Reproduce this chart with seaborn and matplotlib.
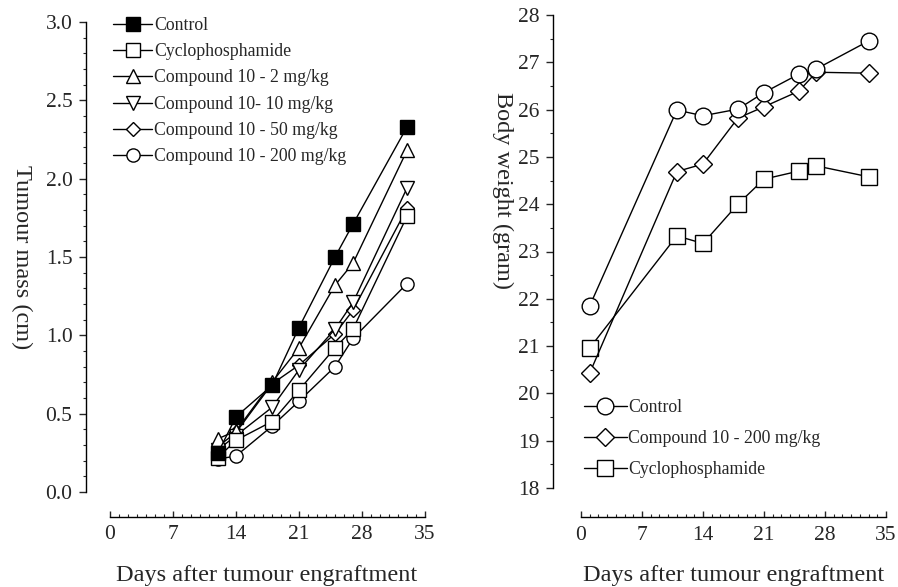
import numpy as np
import pandas as pd
import matplotlib
matplotlib.use("Agg")
import matplotlib.pyplot as plt
import seaborn as sns
from matplotlib.ticker import MultipleLocator

# --- data ---
days_tumour = [12, 14, 18, 21, 25, 27, 33]
control_mass = [0.25, 0.48, 0.68, 1.05, 1.50, 1.71, 2.33]
cyclo_mass = [0.22, 0.33, 0.45, 0.65, 0.92, 1.04, 1.76]
c2_mass = [0.34, 0.39, 0.70, 0.92, 1.32, 1.46, 2.18]
c10_mass = [0.27, 0.36, 0.54, 0.78, 1.04, 1.21, 1.94]
c50_mass = [0.29, 0.38, 0.69, 0.81, 1.01, 1.16, 1.81]
c200_mass = [0.21, 0.23, 0.42, 0.58, 0.80, 0.98, 1.33]

days_weight = [1, 11, 14, 18, 21, 25, 27, 33]
control_weight = [21.85, 25.99, 25.87, 26.01, 26.36, 26.75, 26.86, 27.45]
c200_weight = [20.43, 24.69, 24.85, 25.82, 26.06, 26.39, 26.79, 26.77]
cyclo_weight = [20.96, 23.33, 23.17, 24.00, 24.53, 24.70, 24.81, 24.58]

left_labels = ["Control", "Cyclophosphamide", "Compound 10 - 2 mg/kg",
               "Compound 10- 10 mg/kg", "Compound 10 - 50 mg/kg",
               "Compound 10 - 200 mg/kg"]
right_labels = ["Control", "Compound 10 - 200 mg/kg", "Cyclophosphamide"]
x_ticks = [0, 7, 14, 21, 28, 35]

sns.set_style("ticks")
plt.rcParams["font.family"] = ["Liberation Serif", "DejaVu Serif"]


def style_axes(ax, ylim, ymajor, yminor, left_out, bottom_out):
    ax.set_xlim(0, 35)
    ax.set_ylim(*ylim)
    ax.set_xticks(x_ticks)
    ax.xaxis.set_minor_locator(MultipleLocator(1))
    ax.yaxis.set_major_locator(MultipleLocator(ymajor))
    ax.yaxis.set_minor_locator(MultipleLocator(yminor))
    sns.despine(ax=ax)
    ax.spines["left"].set_position(("outward", left_out))
    ax.spines["bottom"].set_position(("outward", bottom_out))
    for s in ["left", "bottom"]:
        ax.spines[s].set_linewidth(1.0)
        ax.spines[s].set_color("black")
    ax.tick_params(axis="x", which="major", direction="in", length=4.5, width=1.0, labelsize=15.5, pad=6)
    ax.tick_params(axis="x", which="minor", direction="in", length=2.5, width=0.8)
    ax.tick_params(axis="y", which="major", direction="out", length=5, width=1.0, labelsize=15.5, pad=5)
    ax.tick_params(axis="y", which="minor", direction="out", length=2.5, width=0.8)
    ax.set_xlabel("")
    ax.set_ylabel("")


fig = plt.figure(figsize=(8.98, 5.87), dpi=100)
ax1 = fig.add_axes([110 / 898, 1 - 492 / 587, 315 / 898, 470 / 587])
ax2 = fig.add_axes([581 / 898, 1 - 488 / 587, 305 / 898, 473 / 587])

# --- left: tumour mass (drawn back to front) ---
left_series = [
    ("Compound 10 - 200 mg/kg", c200_mass, "o", "white"),
    ("Compound 10 - 50 mg/kg", c50_mass, "D", "white"),
    ("Compound 10- 10 mg/kg", c10_mass, "v", "white"),
    ("Compound 10 - 2 mg/kg", c2_mass, "^", "white"),
    ("Cyclophosphamide", cyclo_mass, "s", "white"),
    ("Control", control_mass, "s", "black"),
]
for label, vals, mk, fc in left_series:
    ms = 7.5 if mk == "D" else 9.5
    sns.lineplot(x=days_tumour, y=vals, ax=ax1, color="black", lw=1.0,
                 marker=mk, markersize=ms, markerfacecolor=fc,
                 markeredgecolor="black", markeredgewidth=1.0, label=label)

style_axes(ax1, (0, 3), 0.5, 0.1, 17, 18)
ax1.yaxis.set_major_formatter(matplotlib.ticker.FormatStrFormatter("%.1f"))
h, l = ax1.get_legend_handles_labels()
order = [l.index(name) for name in left_labels]
ax1.legend([h[i] for i in order], [l[i] for i in order], loc="upper left",
           bbox_to_anchor=(113 / 898, 1 - 17 / 587), bbox_transform=fig.transFigure,
           frameon=False, fontsize=12.8, handlelength=2.2, handletextpad=0.1,
           labelspacing=0.52, borderpad=0, borderaxespad=0)

# --- right: body weight ---
right_series = [
    ("Cyclophosphamide", cyclo_weight, "s", 11),
    ("Compound 10 - 200 mg/kg", c200_weight, "D", 9),
    ("Control", control_weight, "o", 12),
]
for label, vals, mk, ms in right_series:
    sns.lineplot(x=days_weight, y=vals, ax=ax2, color="black", lw=1.0,
                 marker=mk, markersize=ms, markerfacecolor="white",
                 markeredgecolor="black", markeredgewidth=1.0, label=label)

style_axes(ax2, (18, 28), 1, 0.5, 20, 21)
h, l = ax2.get_legend_handles_labels()
order = [l.index(name) for name in right_labels]
ax2.legend([h[i] for i in order], [l[i] for i in order], loc="upper left",
           bbox_to_anchor=(584 / 898, 1 - 399 / 587), bbox_transform=fig.transFigure,
           frameon=False, fontsize=12.8, handlelength=2.4, handletextpad=0.1,
           labelspacing=0.8, borderpad=0, borderaxespad=0)

# --- axis titles ---
fig.text(22 / 898, 1 - 257 / 587, "Tumour mass (cm)", rotation=270,
         ha="center", va="center", fontsize=17.5)
fig.text(503 / 898, 1 - 190 / 587, "Body weight (gram)", rotation=270,
         ha="center", va="center", fontsize=17.5)
fig.text(267 / 898, 1 - 576 / 587, "Days after tumour engraftment",
         ha="center", va="center", fontsize=17.5)
fig.text(734 / 898, 1 - 576 / 587, "Days after tumour engraftment",
         ha="center", va="center", fontsize=17.5)

fig.savefig("out.png", dpi=100, facecolor="white")
